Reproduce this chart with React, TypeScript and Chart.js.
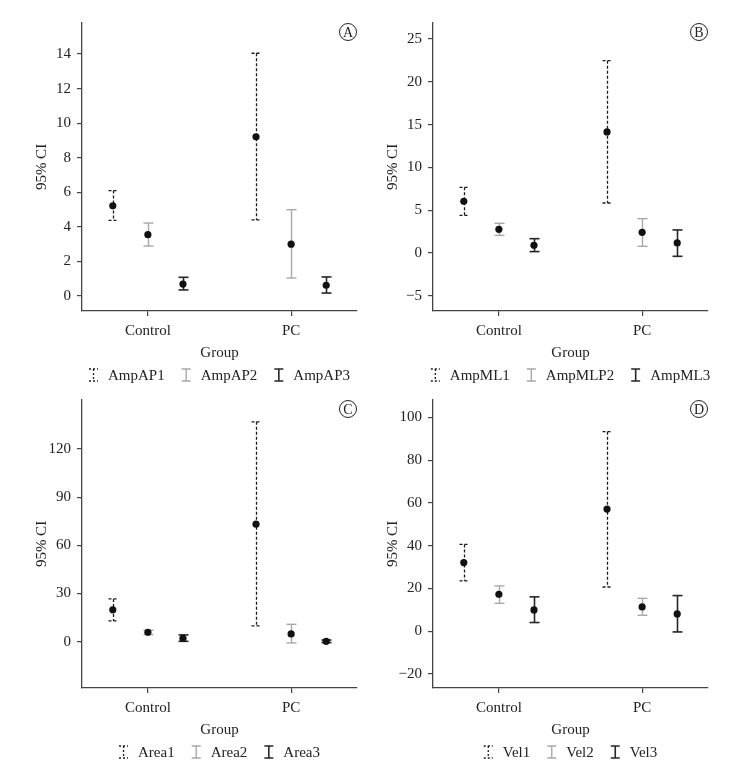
import React, { useEffect, useRef } from 'react';
import { Chart, registerables } from 'chart.js';

Chart.register(...registerables);

const groups = ['Control', 'PC'];

// Panel A
const ampAPNames = ['AmpAP1', 'AmpAP2', 'AmpAP3'];
const ampAPMean = [[5.22, 9.21], [3.55, 3.0], [0.69, 0.62]];
const ampAPLow = [[4.37, 4.4], [2.89, 1.04], [0.35, 0.17]];
const ampAPHigh = [[6.1, 14.05], [4.22, 4.99], [1.08, 1.1]];
const ampAPTicks = [0, 2, 4, 6, 8, 10, 12, 14];
const ampAPRange = [-0.87, 15.8];

// Panel B
const ampMLNames = ['AmpML1', 'AmpMLP2', 'AmpML3'];
const ampMLMean = [[6.04, 14.14], [2.76, 2.41], [0.9, 1.17]];
const ampMLLow = [[4.4, 5.84], [2.06, 0.78], [0.16, -0.39]];
const ampMLHigh = [[7.67, 22.47], [3.47, 4.01], [1.67, 2.69]];
const ampMLTicks = [-5, 0, 5, 10, 15, 20, 25];
const ampMLRange = [-6.78, 26.87];

// Panel C
const areaNames = ['Area1', 'Area2', 'Area3'];
const areaMean = [[19.8, 73.2], [5.8, 4.8], [2.1, 0.2]];
const areaLow = [[12.9, 9.8], [4.4, -0.8], [0.2, -0.6]];
const areaHigh = [[26.6, 137], [7.1, 10.8], [4.2, 1.0]];
const areaTicks = [0, 30, 60, 90, 120];
const areaRange = [-28.9, 150.6];

// Panel D
const velNames = ['Vel1', 'Vel2', 'Vel3'];
const velMean = [[32.1, 57.1], [17.3, 11.4], [10.0, 8.1]];
const velLow = [[23.6, 20.7], [13.1, 7.5], [4.1, -0.3]];
const velHigh = [[40.6, 93.3], [21.2, 15.4], [16.1, 16.7]];
const velTicks = [-20, 0, 20, 40, 60, 80, 100];
const velRange = [-26.5, 108.1];

const seriesOffsets = [-0.245, 0, 0.245];
const seriesStyles = [
  { color: '#1a1a1a', dash: [3, 2], width: 1.3 },
  { color: '#a8a8a8', dash: [] as number[], width: 1.4 },
  { color: '#262626', dash: [] as number[], width: 1.6 },
];
const FONT_FAMILY = '"Liberation Serif", "Times New Roman", serif';
const textColor = '#222';
const axisColor = '#444';

type PanelProps = {
  letter: string;
  names: string[];
  mean: number[][];
  low: number[][];
  high: number[][];
  ticks: number[];
  range: number[];
  x: number;
  y: number;
  w: number;
  h: number;
  padLeft: number;
  padTop: number;
  padRight: number;
  padBottom: number;
};

function drawIcon(ctx: CanvasRenderingContext2D, i: number, cx: number, cy: number) {
  const st = seriesStyles[i];
  ctx.save();
  ctx.strokeStyle = st.color;
  ctx.lineWidth = st.width;
  const top = cy - 6;
  const bot = cy + 6;
  if (i === 0) {
    ctx.setLineDash([2, 2]);
  }
  ctx.beginPath();
  ctx.moveTo(cx - 4.5, top);
  ctx.lineTo(cx + 4.5, top);
  ctx.moveTo(cx, top);
  ctx.lineTo(cx, bot);
  ctx.moveTo(cx - 4.5, bot);
  ctx.lineTo(cx + 4.5, bot);
  ctx.stroke();
  ctx.restore();
}

function Panel(p: PanelProps) {
  const ref = useRef<HTMLCanvasElement>(null);
  useEffect(() => {
    const canvas = ref.current!;
    const font = { family: FONT_FAMILY, size: 15 };

    const errorBarPlugin = {
      id: 'errorBars',
      beforeDatasetsDraw(chart: any) {
        const { ctx, scales } = chart;
        const xs = scales.x;
        const ys = scales.y;
        chart.data.datasets.forEach((ds: any, i: number) => {
          const st = seriesStyles[i];
          ctx.save();
          ctx.strokeStyle = st.color;
          ctx.lineWidth = st.width;
          ctx.setLineDash(st.dash);
          ds.data.forEach((pt: any, j: number) => {
            const px = Math.round(xs.getPixelForValue(pt.x)) + 0.5;
            const pl = ys.getPixelForValue(ds.errLow[j]);
            const ph = ys.getPixelForValue(ds.errHigh[j]);
            ctx.beginPath();
            ctx.moveTo(px, ph);
            ctx.lineTo(px, pl);
            ctx.stroke();
            ctx.beginPath();
            ctx.moveTo(px - 5, ph);
            ctx.lineTo(px + 5, ph);
            ctx.stroke();
            ctx.beginPath();
            ctx.moveTo(px - 5, pl);
            ctx.lineTo(px + 5, pl);
            ctx.stroke();
          });
          ctx.restore();
        });
      },
    };

    const legendPlugin = {
      id: 'customLegend',
      afterDraw(chart: any) {
        const { ctx, chartArea } = chart;
        ctx.save();
        ctx.font = `15px ${FONT_FAMILY}`;
        ctx.fillStyle = textColor;
        ctx.textBaseline = 'middle';
        ctx.textAlign = 'left';
        const iconW = 9;
        const gap = 10;
        const itemGap = 17;
        const widths = p.names.map((n) => iconW + gap + ctx.measureText(n).width);
        const total = widths.reduce((a, b) => a + b, 0) + itemGap * (p.names.length - 1);
        let x0 = (chartArea.left + chartArea.right) / 2 - total / 2;
        const cy = chartArea.bottom + 64;
        p.names.forEach((n, i) => {
          drawIcon(ctx, i, x0 + iconW / 2, cy);
          ctx.fillStyle = textColor;
          ctx.fillText(n, x0 + iconW + gap, cy + 1);
          x0 += widths[i] + itemGap;
        });
        ctx.restore();
      },
    };

    const letterPlugin = {
      id: 'panelLetter',
      afterDraw(chart: any) {
        const { ctx, chartArea } = chart;
        const cx = chartArea.right - 9;
        const cy = chartArea.top + 9;
        ctx.save();
        ctx.strokeStyle = '#222';
        ctx.lineWidth = 1;
        ctx.beginPath();
        ctx.arc(cx, cy, 8.5, 0, Math.PI * 2);
        ctx.stroke();
        ctx.fillStyle = textColor;
        ctx.font = `14px ${FONT_FAMILY}`;
        ctx.textAlign = 'center';
        ctx.textBaseline = 'middle';
        ctx.fillText(p.letter, cx, cy + 1);
        ctx.restore();
      },
    };

    const datasets = p.names.map((name, i) => ({
      label: name,
      data: groups.map((_, j) => ({ x: j + 1 + seriesOffsets[i], y: p.mean[i][j] })),
      errLow: p.low[i],
      errHigh: p.high[i],
      pointRadius: 3.6,
      pointBackgroundColor: '#111',
      pointBorderColor: '#111',
      pointBorderWidth: 0,
      showLine: false,
    }));

    const gridOpts = {
      display: true,
      drawOnChartArea: false,
      drawTicks: true,
      tickLength: 5,
      color: axisColor,
      lineWidth: 1.2,
    };
    const borderOpts = { display: true, color: axisColor, width: 1.3 };

    const chart = new Chart(canvas, {
      type: 'scatter',
      data: { datasets: datasets as any },
      options: {
        responsive: false,
        animation: false,
        layout: {
          padding: { left: p.padLeft, top: p.padTop, right: p.padRight, bottom: p.padBottom },
        },
        plugins: { legend: { display: false }, tooltip: { enabled: false } },
        scales: {
          x: {
            type: 'linear',
            min: 0.54,
            max: 2.46,
            afterBuildTicks: (s: any) => {
              s.ticks = groups.map((_, j) => ({ value: j + 1 }));
            },
            afterFit: (s: any) => {
              s.height = 51;
            },
            ticks: {
              callback: (v: any) => groups[Math.round(Number(v)) - 1] ?? '',
              font,
              color: textColor,
              padding: 6,
              maxRotation: 0,
              autoSkip: false,
            },
            grid: gridOpts,
            border: borderOpts,
            title: { display: true, text: 'Group', font, color: textColor, padding: 0 },
          },
          y: {
            type: 'linear',
            min: p.range[0],
            max: p.range[1],
            afterBuildTicks: (s: any) => {
              s.ticks = p.ticks.map((v) => ({ value: v }));
            },
            afterFit: (s: any) => {
              s.width = 53;
            },
            ticks: {
              callback: (v: any) => String(v).replace('-', '\u2212'),
              font,
              color: textColor,
              padding: 6,
              autoSkip: false,
            },
            grid: gridOpts,
            border: borderOpts,
            title: {
              display: true,
              text: '95% CI',
              font,
              color: textColor,
              padding: { top: 4, bottom: 4 },
            },
          },
        },
      } as any,
      plugins: [errorBarPlugin, legendPlugin, letterPlugin],
    });
    return () => chart.destroy();
  }, []);
  return (
    <canvas
      ref={ref}
      width={p.w}
      height={p.h}
      style={{ position: 'absolute', left: p.x, top: p.y, width: p.w, height: p.h }}
    />
  );
}

export default function App() {
  return (
    <div
      style={{
        position: 'absolute',
        left: 0,
        top: 0,
        width: 755,
        height: 770,
        background: '#fff',
        overflow: 'hidden',
      }}
    >
      <Panel
        letter="A"
        names={ampAPNames}
        mean={ampAPMean}
        low={ampAPLow}
        high={ampAPHigh}
        ticks={ampAPTicks}
        range={ampAPRange}
        x={0}
        y={0}
        w={378}
        h={385}
        padLeft={29}
        padTop={23}
        padRight={21}
        padBottom={23}
      />
      <Panel
        letter="B"
        names={ampMLNames}
        mean={ampMLMean}
        low={ampMLLow}
        high={ampMLHigh}
        ticks={ampMLTicks}
        range={ampMLRange}
        x={378}
        y={0}
        w={377}
        h={385}
        padLeft={2}
        padTop={23}
        padRight={47}
        padBottom={23}
      />
      <Panel
        letter="C"
        names={areaNames}
        mean={areaMean}
        low={areaLow}
        high={areaHigh}
        ticks={areaTicks}
        range={areaRange}
        x={0}
        y={385}
        w={378}
        h={385}
        padLeft={29}
        padTop={15}
        padRight={21}
        padBottom={31}
      />
      <Panel
        letter="D"
        names={velNames}
        mean={velMean}
        low={velLow}
        high={velHigh}
        ticks={velTicks}
        range={velRange}
        x={378}
        y={385}
        w={377}
        h={385}
        padLeft={2}
        padTop={15}
        padRight={47}
        padBottom={31}
      />
    </div>
  );
}
